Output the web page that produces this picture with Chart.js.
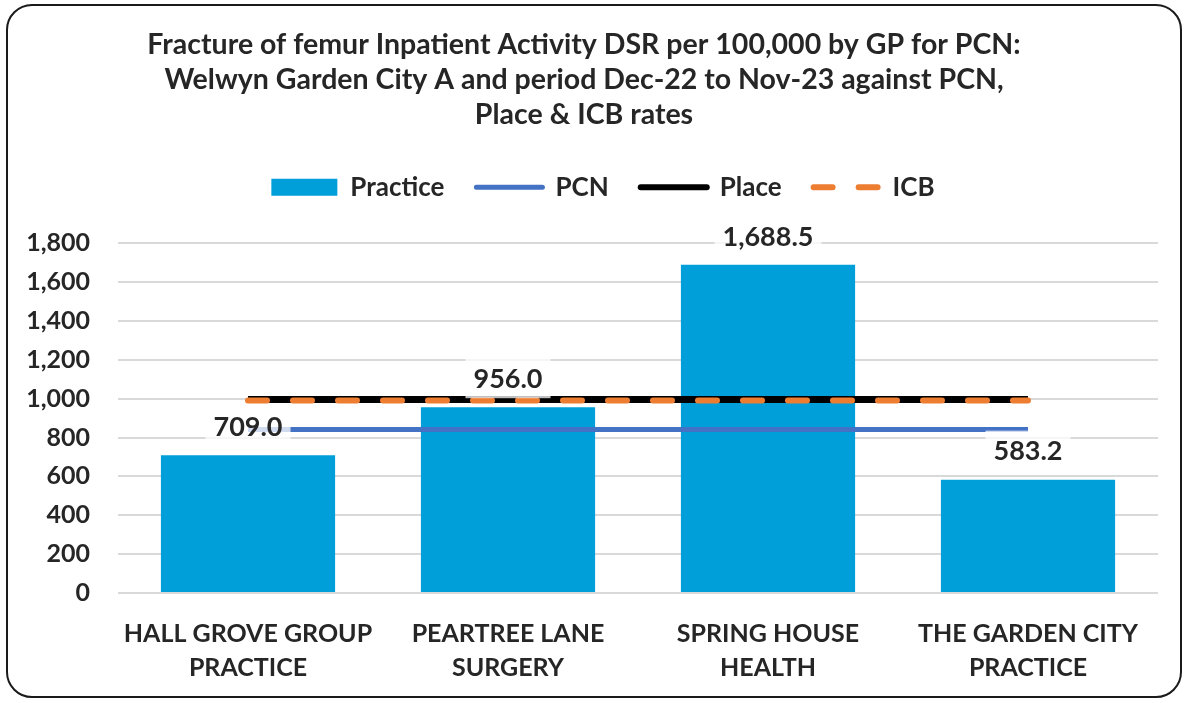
<!DOCTYPE html>
<html>
<head>
<meta charset="utf-8">
<script src="https://cdn.jsdelivr.net/npm/chart.js@4/dist/chart.umd.min.js"></script>
<style>
  html, body { margin: 0; padding: 0; background: #fff; }
  #wrap { position: relative; width: 1188px; height: 703px; }
  #frame {
    position: absolute; left: 6px; top: 4px; width: 1172px; height: 690px;
    border: 2px solid #1a1a1a; border-radius: 26px; pointer-events: none;
  }
</style>
</head>
<body>
<div id="wrap">
  <canvas id="chart" width="1188" height="703"></canvas>
  <div id="frame"></div>
</div>
<script>
// chart values
const practices = [
    ['HALL GROVE GROUP', 'PRACTICE'],
    ['PEARTREE LANE', 'SURGERY'],
    ['SPRING HOUSE', 'HEALTH'],
    ['THE GARDEN CITY', 'PRACTICE']
];
const practiceRates = [709.0, 956.0, 1688.5, 583.2];
const pcnRates = [841, 841, 841, 841];
const placeRates = [995, 995, 995, 995];
const icbRates = [990, 990, 990, 990];
const yTicks = [0, 200, 400, 600, 800, 1000, 1200, 1400, 1600, 1800];

const FONT = 'Lato, "DejaVu Sans", sans-serif';
const TEXT = '#262626';

// draws the value boxes above the bars
const barLabels = {
    id: 'barLabels',
    afterDatasetsDraw(chart) {
        const ctx = chart.ctx;
        const meta = chart.getDatasetMeta(0);
        ctx.save();
        ctx.font = 'bold 27px ' + FONT;
        ctx.textAlign = 'center';
        ctx.textBaseline = 'middle';
        meta.data.forEach((bar, i) => {
            const txt = practiceRates[i].toLocaleString('en-US', { minimumFractionDigits: 1, maximumFractionDigits: 1 });
            const w = ctx.measureText(txt).width + 16;
            const cy = bar.y - 29;
            ctx.fillStyle = 'rgba(255,255,255,0.75)';
            ctx.fillRect(bar.x - w / 2, cy - 20, w, 40);
            ctx.fillStyle = TEXT;
            ctx.fillText(txt, bar.x, cy + 1);
        });
        ctx.restore();
    }
};

// leave a gap under the legend and nudge it over the plot
const legendGap = {
    id: 'legendGap',
    beforeLayout(chart) {
        const lg = chart.legend;
        if (lg && !lg._gapWrapped) {
            const fit = lg.fit;
            const draw = lg.draw;
            lg.fit = function () {
                fit.call(this);
                this.height += 33;
            };
            lg.draw = function () {
                this.ctx.save();
                this.ctx.translate(19, 0);
                draw.call(this);
                this.ctx.restore();
            };
            lg._gapWrapped = true;
        }
    }
};

const legendItems = [
    { text: 'Practice', fillStyle: '#009FDA', strokeStyle: '#009FDA', lineWidth: 0, pointStyle: 'rect', datasetIndex: 0 },
    { text: 'PCN', fillStyle: '#4472C4', strokeStyle: '#4472C4', lineWidth: 5, pointStyle: 'line', lineCap: 'round', datasetIndex: 1 },
    { text: 'Place', fillStyle: '#000', strokeStyle: '#000', lineWidth: 6, pointStyle: 'line', lineCap: 'round', datasetIndex: 2 },
    { text: 'ICB', fillStyle: '#ED7D31', strokeStyle: '#ED7D31', lineWidth: 6, pointStyle: 'line', lineCap: 'round', lineDash: [19, 26], datasetIndex: 3 }
];

const chart = new Chart(document.getElementById('chart'), {
    type: 'bar',
    data: {
        labels: practices,
        datasets: [
            {
                label: 'Practice',
                data: practiceRates,
                backgroundColor: '#009FDA',
                barPercentage: 0.67,
                categoryPercentage: 1,
                order: 4
            },
            {
                type: 'line',
                label: 'PCN',
                data: pcnRates,
                borderColor: '#4472C4',
                borderWidth: 5,
                pointRadius: 0,
                order: 2
            },
            {
                type: 'line',
                label: 'Place',
                data: placeRates,
                borderColor: '#000000',
                borderWidth: 7,
                pointRadius: 0,
                order: 1
            },
            {
                type: 'line',
                label: 'ICB',
                data: icbRates,
                borderColor: '#ED7D31',
                borderWidth: 6,
                borderDash: [19, 26],
                borderCapStyle: 'round',
                pointRadius: 0,
                order: 0
            }
        ]
    },
    options: {
        responsive: false,
        animation: false,
        layout: { padding: { left: 10, right: 30, top: 10, bottom: 10 } },
        plugins: {
            title: {
                display: true,
                text: [
                    'Fracture of femur Inpatient Activity DSR per 100,000 by GP for PCN:',
                    'Welwyn Garden City A and period Dec-22 to Nov-23 against PCN,',
                    'Place & ICB rates'
                ],
                color: TEXT,
                font: { family: FONT, size: 28.5, weight: 'bold', lineHeight: 1.23 },
                padding: { top: 17, bottom: 10 }
            },
            legend: {
                display: true,
                labels: {
                    color: TEXT,
                    font: { family: FONT, size: 26, weight: 'bold' },
                    usePointStyle: true,
                    pointStyleWidth: 66,
                    boxHeight: 17,
                    padding: 32,
                    generateLabels: () => legendItems.map(it => Object.assign({ hidden: false, fontColor: TEXT }, it))
                }
            },
            tooltip: { enabled: false }
        },
        scales: {
            x: {
                grid: { display: false },
                border: { display: false },
                ticks: {
                    color: TEXT,
                    font: { family: FONT, size: 25, weight: 'bold', lineHeight: 1.36 },
                    padding: 16,
                    maxRotation: 0
                },
                afterFit: s => { s.height = 100; }
            },
            y: {
                min: 0,
                max: 1800,
                afterBuildTicks: s => { s.ticks = yTicks.map(v => ({ value: v })); },
                grid: { color: '#d9d9d9', lineWidth: 2, drawTicks: false },
                border: { display: false },
                ticks: {
                    color: TEXT,
                    font: { family: FONT, size: 25, weight: 'bold' },
                    padding: 28,
                    callback: v => v.toLocaleString('en-US')
                },
                afterFit: s => { s.width = 108; }
            }
        }
    },
    plugins: [legendGap, barLabels]
});
</script>
</body>
</html>
